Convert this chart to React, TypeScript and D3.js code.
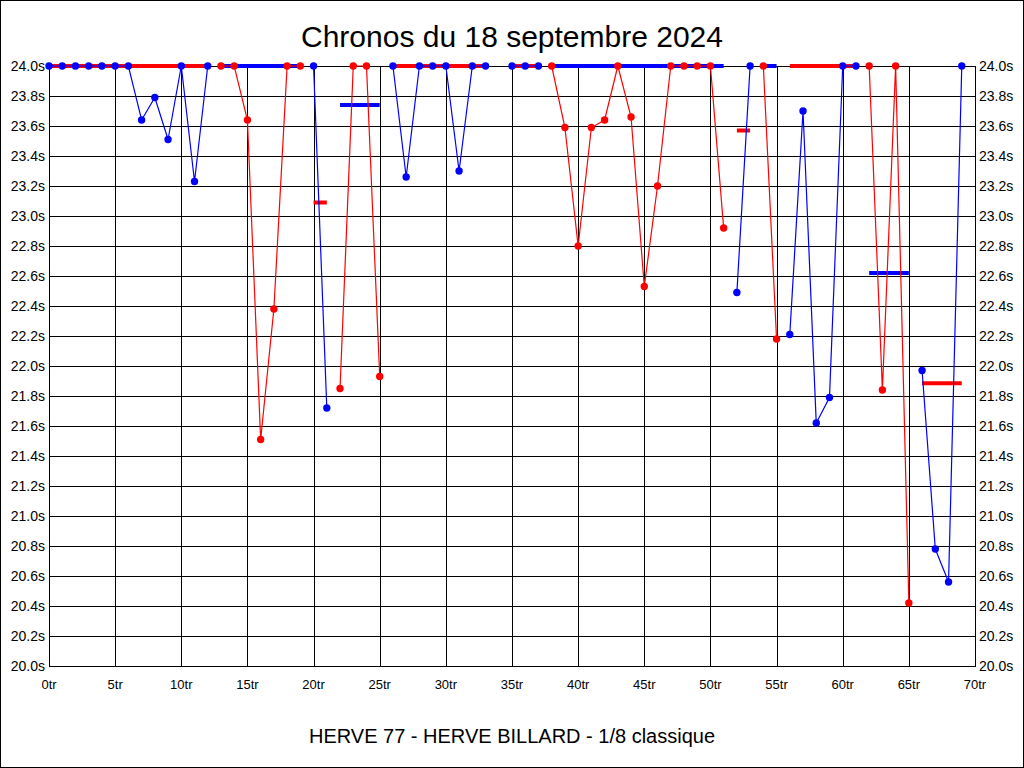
import React from "react";
import * as d3 from "d3";

// ---- data ----
const title = "Chronos du 18 septembre 2024";
const subtitle = "HERVE 77 - HERVE BILLARD - 1/8 classique";

// lap number -> lap time in seconds (times above 24.0s are shown at 24.0s); null = no lap
const lapTimes: (number | null)[] = [
  24.0, 24.0, 24.0, 24.0, 24.0, 24.0, 24.0, 23.64, 23.79, 23.51, 24.0, 23.23, 24.0,
  24.0, 24.0, 23.64, 21.51, 22.38, 24.0, 24.0,
  24.0, 21.72,
  21.85, 24.0, 24.0, 21.93,
  24.0, 23.26, 24.0, 24.0, 24.0, 23.3, 24.0, 24.0,
  null,
  24.0, 24.0, 24.0,
  24.0, 23.59, 22.8, 23.59, 23.64, 24.0, 23.66, 22.53, 23.2, 24.0, 24.0, 24.0, 24.0, 22.92,
  22.49, 24.0,
  24.0, 22.18,
  22.21, 23.7, 21.62, 21.79, 24.0, 24.0,
  24.0, 21.84, 24.0, 20.42,
  21.97, 20.78, 20.56, 24.0,
];

// player of each lap: B = blue, R = red
const lapPlayer: string[] = [
  "B", "B", "B", "B", "B", "B", "B", "B", "B", "B", "B", "B", "B",
  "R", "R", "R", "R", "R", "R", "R",
  "B", "B",
  "R", "R", "R", "R",
  "B", "B", "B", "B", "B", "B", "B", "B",
  "",
  "B", "B", "B",
  "R", "R", "R", "R", "R", "R", "R", "R", "R", "R", "R", "R", "R", "R",
  "B", "B",
  "R", "R",
  "B", "B", "B", "B", "B", "B",
  "R", "R", "R", "R",
  "B", "B", "B", "B",
];

// series averages (thick bars)
const segStart = [0, 13, 20, 22, 26, 35, 38, 52, 54, 56, 62, 66];
const segEnd = [12, 19, 21, 25, 33, 37, 51, 53, 55, 61, 65, 69];
const segColor = ["R", "B", "R", "B", "R", "R", "B", "R", "B", "R", "B", "R"];
const segAverage = [24.0, 24.0, 23.09, 23.74, 24.0, 24.0, 24.0, 23.57, 24.0, 24.0, 22.62, 21.885];

const yTicks = [20.0, 20.2, 20.4, 20.6, 20.8, 21.0, 21.2, 21.4, 21.6, 21.8, 22.0, 22.2, 22.4, 22.6, 22.8, 23.0, 23.2, 23.4, 23.6, 23.8, 24.0];
const xTicks = [0, 5, 10, 15, 20, 25, 30, 35, 40, 45, 50, 55, 60, 65, 70];

const COLORS: Record<string, string> = { B: "#0000ff", R: "#ff0000" };
const FONT = "Arial, 'Liberation Sans', sans-serif";

export default function App() {
  const W = 1024;
  const H = 768;
  const left = 49, right = 975, top = 66, bottom = 666;
  const x = d3.scaleLinear().domain([0, 70]).range([left, right]);
  const y = d3.scaleLinear().domain([20, 24]).range([bottom, top]);
  const px = (v: number) => Math.round(v) + 0.5;

  const laps = lapTimes.map((t, i) => ({ lap: i, t, p: lapPlayer[i] }));
  const seriesPath = (player: string) =>
    d3
      .line<{ lap: number; t: number | null; p: string }>()
      .defined((d) => d.t != null && d.p === player)
      .x((d) => x(d.lap))
      .y((d) => y(d.t as number))(laps) || "";

  return (
    <svg
      width={W}
      height={H}
      style={{ position: "absolute", left: 0, top: 0, background: "#fff" }}
      fontFamily={FONT}
    >
      <rect x={0.5} y={0.5} width={W - 1} height={H - 1} fill="#fff" stroke="#000" />
      <text x={512} y={47} textAnchor="middle" fontSize={30} fill="#000">
        {title}
      </text>
      <text x={512} y={743} textAnchor="middle" fontSize={20} fill="#000">
        {subtitle}
      </text>

      {/* grid */}
      <g shapeRendering="crispEdges" stroke="#000" strokeWidth={1}>
        {yTicks.map((v) => (
          <line key={"h" + v} x1={left} x2={right} y1={px(y(v))} y2={px(y(v))} />
        ))}
        {xTicks.map((v) => (
          <line key={"v" + v} x1={px(x(v))} x2={px(x(v))} y1={top} y2={bottom} />
        ))}
        <rect x={left + 0.5} y={top + 0.5} width={right - left} height={bottom - top} fill="none" />
      </g>

      {/* tick labels */}
      <g fontSize={14} fill="#000">
        {yTicks.map((v) => (
          <text key={"yl" + v} x={45} y={y(v)} dy="0.36em" textAnchor="end">
            {d3.format(".1f")(v) + "s"}
          </text>
        ))}
        {yTicks.map((v) => (
          <text key={"yr" + v} x={979} y={y(v)} dy="0.36em" textAnchor="start">
            {d3.format(".1f")(v) + "s"}
          </text>
        ))}
      </g>
      <g fontSize={13} fill="#000">
        {xTicks.map((v) => (
          <text key={"xl" + v} x={x(v)} y={689} textAnchor="middle">
            {v + "tr"}
          </text>
        ))}
      </g>

      {/* series averages */}
      <g>
        {segStart.map((s, i) => (
          <line
            key={"avg" + i}
            x1={x(s)}
            x2={x(segEnd[i])}
            y1={y(segAverage[i])}
            y2={y(segAverage[i])}
            stroke={COLORS[segColor[i]]}
            strokeWidth={4}
          />
        ))}
      </g>

      {/* lap lines */}
      {["B", "R"].map((p) => (
        <path key={"l" + p} d={seriesPath(p)} fill="none" stroke={COLORS[p]} strokeWidth={1.2} />
      ))}

      {/* lap points */}
      <g>
        {laps
          .filter((d) => d.t != null)
          .map((d) => (
            <circle key={"c" + d.lap} cx={x(d.lap)} cy={y(d.t as number)} r={3.7} fill={COLORS[d.p]} />
          ))}
      </g>
    </svg>
  );
}
